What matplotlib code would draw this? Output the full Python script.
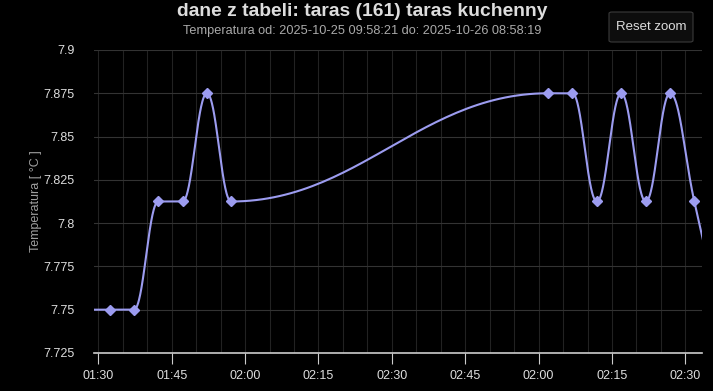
import numpy as np
import pandas as pd
import matplotlib
matplotlib.use('Agg')
import matplotlib.pyplot as plt
import matplotlib.dates as mdates
from matplotlib.patches import FancyBboxPatch
from zoneinfo import ZoneInfo

# readings (UTC); first and last lie just outside the zoomed window
times_utc = ['2025-10-25 23:27:24', '2025-10-25 23:32:20', '2025-10-25 23:37:18',
             '2025-10-25 23:42:15', '2025-10-25 23:47:14', '2025-10-25 23:52:12',
             '2025-10-25 23:57:08', '2025-10-26 01:01:55', '2025-10-26 01:06:55',
             '2025-10-26 01:11:55', '2025-10-26 01:16:53', '2025-10-26 01:21:55',
             '2025-10-26 01:26:52', '2025-10-26 01:31:50', '2025-10-26 01:36:48']
temps = [7.75, 7.75, 7.75, 7.8125, 7.8125, 7.875, 7.8125, 7.875, 7.875,
         7.8125, 7.875, 7.8125, 7.875, 7.8125, 7.75]
view_start = '2025-10-25 23:29:07'
view_end = '2025-10-26 01:33:24'

title = 'dane z tabeli: taras (161) taras kuchenny'
subtitle = 'Temperatura od: 2025-10-25 09:58:21 do: 2025-10-26 08:58:19'
ylabel = 'Temperatura [ °C ]'
yticks = [7.725, 7.75, 7.775, 7.8, 7.825, 7.85, 7.875, 7.9]

tz = ZoneInfo('Europe/Warsaw')
t = pd.to_datetime(times_utc, utc=True)
x = mdates.date2num(t.to_pydatetime())
y = np.array(temps)


def spline_path(x, y, smoothing=1.5):
    # highcharts-like spline: control points per point, cubic bezier between them
    n = len(x)
    lc = [(x[i], y[i]) for i in range(n)]
    rc = [(x[i], y[i]) for i in range(n)]
    denom = smoothing + 1
    for i in range(1, n - 1):
        px, py = x[i], y[i]
        lx = (smoothing * px + x[i - 1]) / denom
        ly = (smoothing * py + y[i - 1]) / denom
        rx = (smoothing * px + x[i + 1]) / denom
        ry = (smoothing * py + y[i + 1]) / denom
        corr = 0
        if rx != lx:
            corr = (ry - ly) * (rx - px) / (rx - lx) + py - ry
        ly += corr
        ry += corr
        if ly > y[i - 1] and ly > py:
            ly = max(y[i - 1], py)
            ry = 2 * py - ly
        elif ly < y[i - 1] and ly < py:
            ly = min(y[i - 1], py)
            ry = 2 * py - ly
        if ry > y[i + 1] and ry > py:
            ry = max(y[i + 1], py)
            ly = 2 * py - ry
        elif ry < y[i + 1] and ry < py:
            ry = min(y[i + 1], py)
            ly = 2 * py - ry
        lc[i] = (lx, ly)
        rc[i] = (rx, ry)
    s = np.linspace(0, 1, 60)[:, None]
    xs, ys = [], []
    for i in range(1, n):
        p0 = np.array([x[i - 1], y[i - 1]])
        p1 = np.array(rc[i - 1])
        p2 = np.array(lc[i])
        p3 = np.array([x[i], y[i]])
        b = ((1 - s) ** 3) * p0 + 3 * ((1 - s) ** 2) * s * p1 + 3 * (1 - s) * s ** 2 * p2 + s ** 3 * p3
        xs.append(b[:, 0])
        ys.append(b[:, 1])
    return np.concatenate(xs), np.concatenate(ys)


plt.rcParams['font.family'] = ['Liberation Sans', 'DejaVu Sans']

fig = plt.figure(figsize=(7.13, 3.91), dpi=100, facecolor='black')
ax = fig.add_axes([94 / 713, 38 / 391, 608 / 713, 303 / 391])
ax.set_facecolor('black')

cx, cy = spline_path(x, y)
ax.plot(cx, cy, color='#9c9cf0', lw=1.5, zorder=3)
ax.plot(x, y, 'D', color='#9c9cf0', markersize=5, zorder=4)

ax.set_xlim(mdates.date2num(pd.Timestamp(view_start, tz='UTC').to_pydatetime()),
            mdates.date2num(pd.Timestamp(view_end, tz='UTC').to_pydatetime()))
ax.set_ylim(7.725, 7.9)
ax.set_yticks(yticks)
ax.set_yticklabels([f'{v:g}' for v in yticks])

# ticks placed in UTC (offset is whole hours), labels shown in local time
ax.xaxis.set_major_locator(mdates.MinuteLocator(byminute=[0, 15, 30, 45], tz='UTC'))
ax.xaxis.set_minor_locator(mdates.MinuteLocator(byminute=range(0, 60, 5), tz='UTC'))
ax.xaxis.set_major_formatter(mdates.DateFormatter('%H:%M', tz=tz))

ax.grid(axis='y', color='#333333', lw=0.8)
ax.grid(axis='x', which='both', color='#222222', lw=0.8)
ax.set_axisbelow(True)

for side in ['top', 'right', 'left']:
    ax.spines[side].set_visible(False)
ax.spines['bottom'].set_color('#cccccc')
ax.spines['bottom'].set_linewidth(1.2)

ax.tick_params(axis='x', which='major', length=8, color='#cccccc', labelcolor='#dddddd',
               labelsize=9, pad=4)
ax.tick_params(axis='x', which='minor', length=0)
ax.tick_params(axis='y', length=0, labelcolor='#dddddd', labelsize=9, pad=14)

ax.set_ylabel(ylabel, color='#a0a0a0', fontsize=9, labelpad=1)

fig.text(362 / 713, 1 - 11 / 391, title, ha='center', va='center', color='#dddddd',
         fontsize=13.9, fontweight='bold')
fig.text(362 / 713, 1 - 31 / 391, subtitle, ha='center', va='center', color='#aaaaaa',
         fontsize=9.2)

btn = FancyBboxPatch((609 / 713, 1 - 42 / 391), 84 / 713, 30 / 391,
                     boxstyle='round,pad=0,rounding_size=0.004', transform=fig.transFigure,
                     facecolor='#0d0d0d', edgecolor='#3a3a3a', lw=0.8)
fig.patches.append(btn)
fig.text(651 / 713, 1 - 27 / 391, 'Reset zoom', ha='center', va='center', color='#dddddd',
         fontsize=9.5)

fig.savefig('out.png', dpi=100, facecolor='black')
